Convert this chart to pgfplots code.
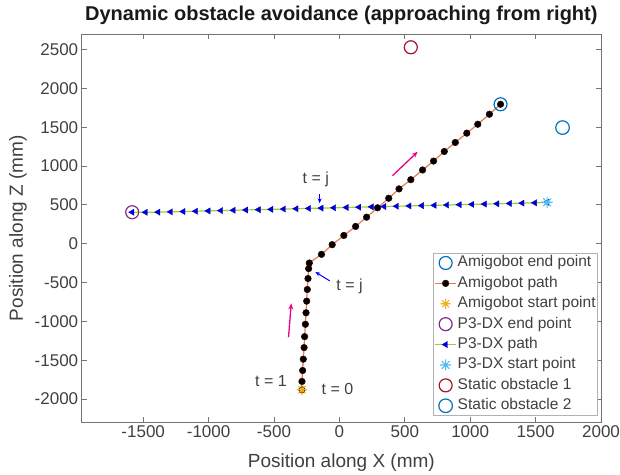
\documentclass[border=0pt]{standalone}
\usepackage{fontspec}
\setmainfont{Liberation Sans}
\usepackage{pgfplots}
\pgfplotsset{compat=1.18}
\usetikzlibrary{arrows.meta}
\definecolor{mblue}{rgb}{0,0.447,0.741}
\definecolor{morange}{rgb}{0.85,0.325,0.098}
\definecolor{myellow}{rgb}{0.929,0.694,0.125}
\definecolor{mpurple}{rgb}{0.494,0.184,0.556}
\definecolor{pgreen}{rgb}{0.62,0.80,0.20}
\definecolor{mcyan}{rgb}{0.301,0.745,0.933}
\definecolor{mred}{rgb}{0.635,0.078,0.184}
\definecolor{txt}{rgb}{0.25,0.25,0.25}
\definecolor{axgray}{rgb}{0.45,0.45,0.45}
\pgfdeclareplotmark{ast8}{%
  \pgfpathmoveto{\pgfqpoint{-\pgfplotmarksize}{0pt}}\pgfpathlineto{\pgfqpoint{\pgfplotmarksize}{0pt}}%
  \pgfpathmoveto{\pgfqpoint{0pt}{-\pgfplotmarksize}}\pgfpathlineto{\pgfqpoint{0pt}{\pgfplotmarksize}}%
  \pgfpathmoveto{\pgfqpoint{-0.707\pgfplotmarksize}{-0.707\pgfplotmarksize}}\pgfpathlineto{\pgfqpoint{0.707\pgfplotmarksize}{0.707\pgfplotmarksize}}%
  \pgfpathmoveto{\pgfqpoint{-0.707\pgfplotmarksize}{0.707\pgfplotmarksize}}\pgfpathlineto{\pgfqpoint{0.707\pgfplotmarksize}{-0.707\pgfplotmarksize}}%
  \pgfusepathqstroke}
\begin{document}
\begin{tikzpicture}
\begin{axis}[
  name=ax,
  scale only axis, width=519.3pt, height=388.3pt,
  xmin=-1970, xmax=2000, ymin=-2300, ymax=2700,
  xtick={-1500,-1000,...,2000}, ytick={-2000,-1500,...,2500},
  tick align=inside, major tick length=5pt,
  axis line style={axgray, line width=0.7pt},
  tick style={axgray, line width=0.7pt},
  ticklabel style={font=\fontsize{17}{20}\selectfont, text=txt},
  /pgf/number format/assume math mode=true,
  /pgf/number format/1000 sep={},
  scaled ticks=false,
  label style={font=\fontsize{19}{22}\selectfont, text=txt},
  xlabel={Position along X (mm)}, ylabel={Position along Z (mm)},
  xlabel style={at={(axis description cs:0.5,-0.1048)}, anchor=center},
  ylabel style={at={(axis description cs:-0.1227,0.5)}, anchor=center},
  title={Dynamic obstacle avoidance (approaching from right)},
  title style={font=\fontsize{20}{24}\selectfont\bfseries, text=black!90},
  legend style={at={(0.994,0.016)}, anchor=south east,
    font=\fontsize{15.5}{18}\selectfont, text=txt, draw=gray!60, line width=0.6pt,
    cells={anchor=west}, inner xsep=1pt, inner ysep=1.5pt, row sep=3.4pt,
    nodes={inner sep=1pt, text height=11.5pt, text depth=3.5pt}},
  legend image code/.code={\draw[mark repeat=2,mark phase=2,#1] plot coordinates {(0pt,0pt) (10.5pt,0pt) (21pt,0pt)};},
]
\addplot[only marks, mark=o, mark size=6.5pt, mblue, line width=1.2pt] coordinates {(1232,1795)};
\addlegendentry{Amigobot end point}
\addplot[morange!75!white, line width=1.2pt, mark=*, mark size=3.3pt, mark options={fill=black, draw=black!80!red, line width=0.5pt}] coordinates {
(-286,-1881) (-286,-1774) (-281,-1633) (-276,-1487) (-270,-1338) (-266,-1197) (-260,-1038)
(-255,-890) (-250,-740) (-245,-590) (-240,-449) (-235,-321) (-230,-249)
(-137,-137) (-55,-13) (34,106) (124,222) (208,341) (292,462) (377,585) (456,705)
(546,824) (636,949) (720,1064) (802,1187) (886,1303) (974,1423) (1058,1538) (1147,1667) (1232,1795)};
\addlegendentry{Amigobot path}
\addplot[only marks, mark=ast8, mark size=5pt, myellow, line width=1.1pt] coordinates {(-286,-1881)};
\addlegendentry{Amigobot start point}
\addplot[only marks, mark=o, mark size=6.5pt, mpurple, line width=1.2pt] coordinates {(-1584,405)};
\addlegendentry{P3-DX end point}
\addplot[pgreen, line width=1.2pt, mark=triangle*, mark size=3.6pt, mark options={rotate=90, fill=blue!85!black, draw=blue!85!black, line width=0.3pt}] coordinates {
(1588,533) (1494,526) (1398,522) (1302,518) (1206,514) (1110,510) (1014,506) (918,502)
(822,498) (726,494) (630,490) (534,486) (438,482) (342,478) (246,474) (150,470) (54,466)
(-42,462) (-138,458) (-234,454) (-330,450) (-426,446) (-522,442) (-618,438) (-714,434)
(-810,430) (-906,426) (-1002,422) (-1098,418) (-1194,414) (-1290,410) (-1386,406) (-1482,404) (-1584,405)};
\addlegendentry{P3-DX path}
\addplot[only marks, mark=ast8, mark size=5.5pt, mcyan, line width=1.1pt] coordinates {(1588,533)};
\addlegendentry{P3-DX start point}
\addplot[only marks, mark=o, mark size=6.5pt, mred, line width=1.2pt] coordinates {(546,2529)};
\addlegendentry{Static obstacle 1}
\addplot[only marks, mark=o, mark size=6.8pt, mblue, line width=1.2pt] coordinates {(1706,1495)};
\addlegendentry{Static obstacle 2}
\draw[-{Stealth[length=6pt,width=5pt]}, magenta, line width=1.3pt] (axis cs:406,876) -- (axis cs:598,1183);
\draw[-{Stealth[length=6pt,width=5pt]}, magenta, line width=1.3pt] (axis cs:-389,-1205) -- (axis cs:-368,-769);
\draw[-{Stealth[length=5pt,width=4pt]}, blue, line width=1pt] (axis cs:-151,640) -- (axis cs:-151,520);
\draw[-{Stealth[length=5pt,width=4pt]}, blue, line width=1pt] (axis cs:-74,-479) -- (axis cs:-184,-364);
\node[font=\fontsize{16}{19}\selectfont, text=txt] at (axis cs:-180,830) {t = j};
\node[font=\fontsize{16}{19}\selectfont, text=txt] at (axis cs:78,-547) {t = j};
\node[font=\fontsize{16}{19}\selectfont, text=txt] at (axis cs:-523,-1763) {t = 1};
\node[font=\fontsize{16}{19}\selectfont, text=txt] at (axis cs:-15,-1868) {t = 0};
\end{axis}
\pgfresetboundingbox
\useasboundingbox ([xshift=-81.7pt,yshift=-52.7pt]ax.south west) rectangle ([xshift=19pt,yshift=34pt]ax.north east);
\end{tikzpicture}
\end{document}
